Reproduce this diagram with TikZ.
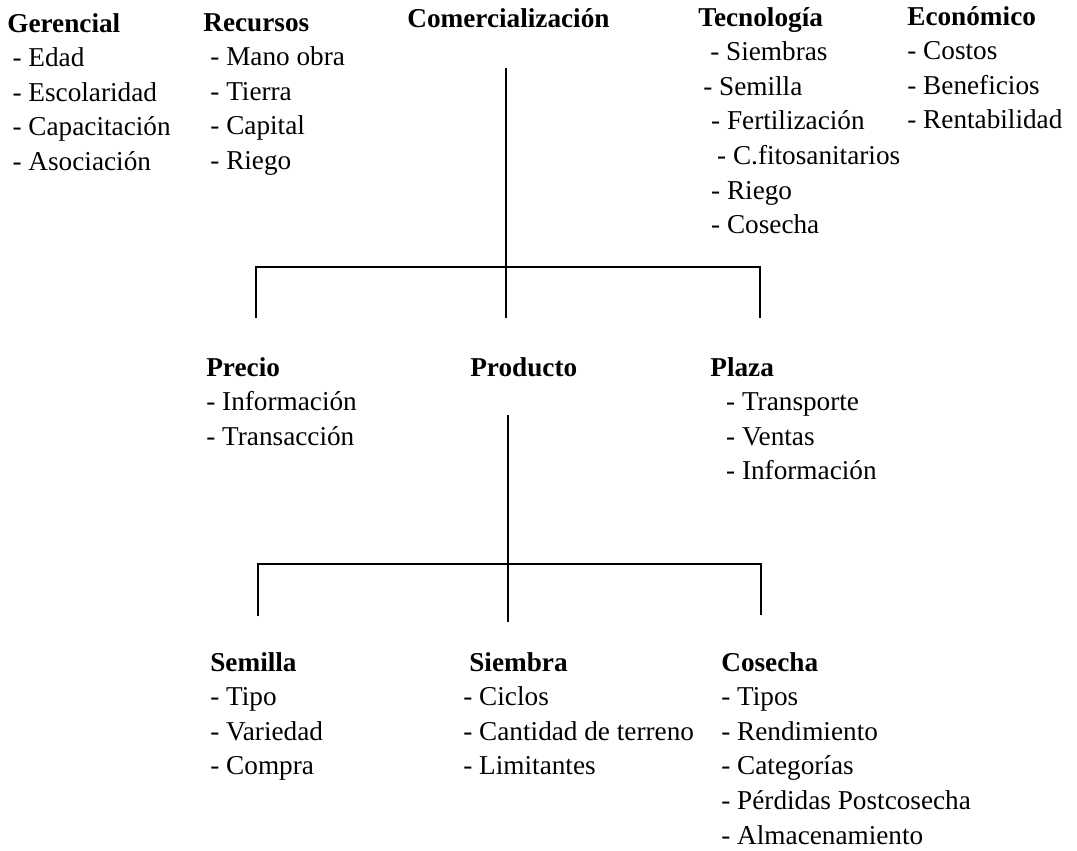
\documentclass[tikz,border=0pt]{standalone}
\usepackage{fontspec}
\setmainfont{Liberation Serif}

\tikzset{
  grupo/.style={anchor=north west, inner sep=0pt, align=left, font=\fontsize{15.5}{19.7}\selectfont},
  rama/.style={line width=1.1pt},
}

\begin{document}
\begin{tikzpicture}[x=0.02cm, y=-0.02cm]
  \useasboundingbox (0,0) rectangle (1077,850);

  % primer nivel
  \node[grupo] (gerencial) at (7,7.5) {\strut\textbf{Gerencial}\\
    \hspace{3pt}- Edad\\ \hspace{3pt}- Escolaridad\\ \hspace{3pt}- Capacitación\\ \hspace{3pt}- Asociación};
  \node[grupo] (recursos) at (203,6.5) {\strut\textbf{Recursos}\\
    \hspace{4pt}- Mano obra\\ \hspace{4pt}- Tierra\\ \hspace{4pt}- Capital\\ \hspace{4pt}- Riego};
  \node[grupo] (comer) at (407,3) {\strut\textbf{Comercialización}};
  \node[grupo] (tecno) at (698,1.5) {\strut\textbf{Tecnología}\\
    \hspace{6.8pt}- Siembras\\ \hspace{2.8pt}- Semilla\\ \hspace{7.3pt}- Fertilización\\
    \hspace{10.7pt}- C.fitosanitarios\\ \hspace{7.3pt}- Riego\\ \hspace{7.3pt}- Cosecha};
  \node[grupo] (econ) at (907,0.5) {\strut\textbf{Económico}\\
    - Costos\\ - Beneficios\\ - Rentabilidad};

  % segundo nivel
  \node[grupo] (precio) at (206,351.5) {\strut\textbf{Precio}\\
    - Información\\ - Transacción};
  \node[grupo] (producto) at (470,351.5) {\strut\textbf{Producto}};
  \node[grupo] (plaza) at (710,351.5) {\strut\textbf{Plaza}\\
    \hspace{9pt}- Transporte\\ \hspace{9pt}- Ventas\\ \hspace{9pt}- Información};

  % tercer nivel
  \node[grupo] (semilla) at (210,646.5) {\strut\textbf{Semilla}\\
    - Tipo\\ - Variedad\\ - Compra};
  \node[grupo] (siembra) at (463,646.5) {\strut\hspace{3.4pt}\textbf{Siembra}\\
    - Ciclos\\ - Cantidad de terreno\\ - Limitantes};
  \node[grupo] (cosecha) at (721,646.5) {\strut\textbf{Cosecha}\\
    - Tipos\\ - Rendimiento\\ - Categorías\\ - Pérdidas Postcosecha\\ - Almacenamiento};

  % ramas
  \coordinate (arriba1) at (506,68);
  \coordinate (cruce1) at (506,267);
  \coordinate (centro1) at (506,318);
  \coordinate (izq1) at (256,318);
  \coordinate (der1) at (760,318);
  \draw[rama] (arriba1) -- (centro1);
  \draw[rama] (izq1) |- (cruce1) -| (der1);

  \coordinate (arriba2) at (508,415);
  \coordinate (cruce2) at (508,564);
  \coordinate (centro2) at (508,622);
  \coordinate (izq2) at (258,616);
  \coordinate (der2) at (761,615);
  \draw[rama] (arriba2) -- (centro2);
  \draw[rama] (izq2) |- (cruce2) -| (der2);
\end{tikzpicture}
\end{document}
